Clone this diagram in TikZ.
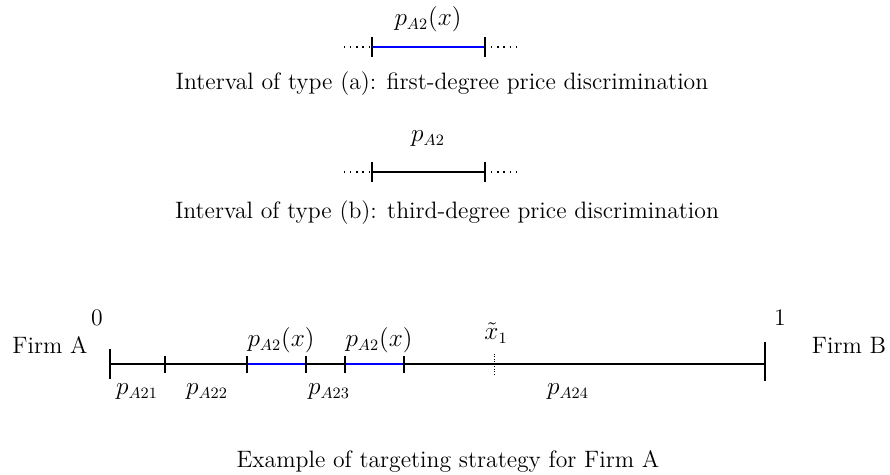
\documentclass[tikz,border=0pt]{standalone}
\usepackage{amsmath}
\usepackage{tikz}
\usetikzlibrary{positioning}

\begin{document}
\begin{tikzpicture}[x=0.02cm, y=-0.02cm,
		line width=0.75pt,
		every node/.style={font=\fontsize{13.5}{16}\selectfont},
		segline/.style={blue, line width=1.6pt},
		smalltick/.style={line width=0.75pt},
		dotline/.style={line width=0.7pt, dash pattern=on 0.7pt off 2.8pt},
		labelnode/.style={inner sep=1pt},
		capnode/.style={inner sep=1pt}]
	\useasboundingbox (0,0) rectangle (890,475);

	% type (a)
	\coordinate (a0) at (372,47);
	\coordinate (a1) at (485,47);
	\coordinate (al) at (344,47);
	\coordinate (ar) at (516,47);
	\draw[dotline] (al) to (a0);
	\draw[dotline] (a1) to (ar);
	\draw[segline] (a0) to (a1);
	\draw[smalltick] (372,37) -- (372,57);
	\draw[smalltick] (485,37) -- (485,57);
	\node[labelnode] (pa) at (428,19) {$p_{A2}(x)$};
	\node[capnode] (capa) at (442,84) {Interval of type (a): first-degree price discrimination};

	% type (b)
	\coordinate (b0) at (372,172);
	\coordinate (b1) at (485,172);
	\coordinate (bl) at (344,172);
	\coordinate (br) at (516,172);
	\draw[dotline] (bl) to (b0);
	\draw[dotline] (b1) to (br);
	\draw (b0) to (b1);
	\draw[smalltick] (372,162) -- (372,182);
	\draw[smalltick] (485,162) -- (485,182);
	\node[labelnode] (pb) at (428,139) {$p_{A2}$};
	\node[capnode] (capb) at (447,213) {Interval of type (b): third-degree price discrimination};

	% example for firm A
	\coordinate (l0) at (110,364);
	\coordinate (l1) at (165,364);
	\coordinate (l2) at (247,364);
	\coordinate (l3) at (306,364);
	\coordinate (l4) at (345,364);
	\coordinate (l5) at (404,364);
	\coordinate (l6) at (765,364);
	\draw (l0) to (l6);
	\draw[segline] (l2) to (l3);
	\draw[segline] (l4) to (l5);
	\draw (110,349) -- (110,379);
	\draw (765,342) -- (765,381);
	\foreach \x in {165,247,306,345,404}
		\draw[smalltick] (\x,356) -- (\x,373);
	\draw[densely dotted, line width=0.4pt] (494,354) -- (494,374);

	\node[labelnode] (zero) at (97,318) {0};
	\node[labelnode] (one) at (780,318) {1};
	\node[labelnode] (firmA) at (50,345) {Firm A};
	\node[labelnode] (firmB) at (849,345) {Firm B};
	\node[labelnode] (px1) at (281,340) {$p_{A2}(x)$};
	\node[labelnode] (px2) at (379,340) {$p_{A2}(x)$};
	\node[labelnode] (xt) at (496,333) {$\tilde{x}_1$};
	\node[labelnode] (p21) at (137,392) {$p_{A21}$};
	\node[labelnode] (p22) at (207,392) {$p_{A22}$};
	\node[labelnode] (p23) at (329,392) {$p_{A23}$};
	\node[labelnode] (p24) at (568,392) {$p_{A24}$};
	\node[capnode] (capc) at (448,461) {Example of targeting strategy for Firm A};
\end{tikzpicture}
\end{document}
